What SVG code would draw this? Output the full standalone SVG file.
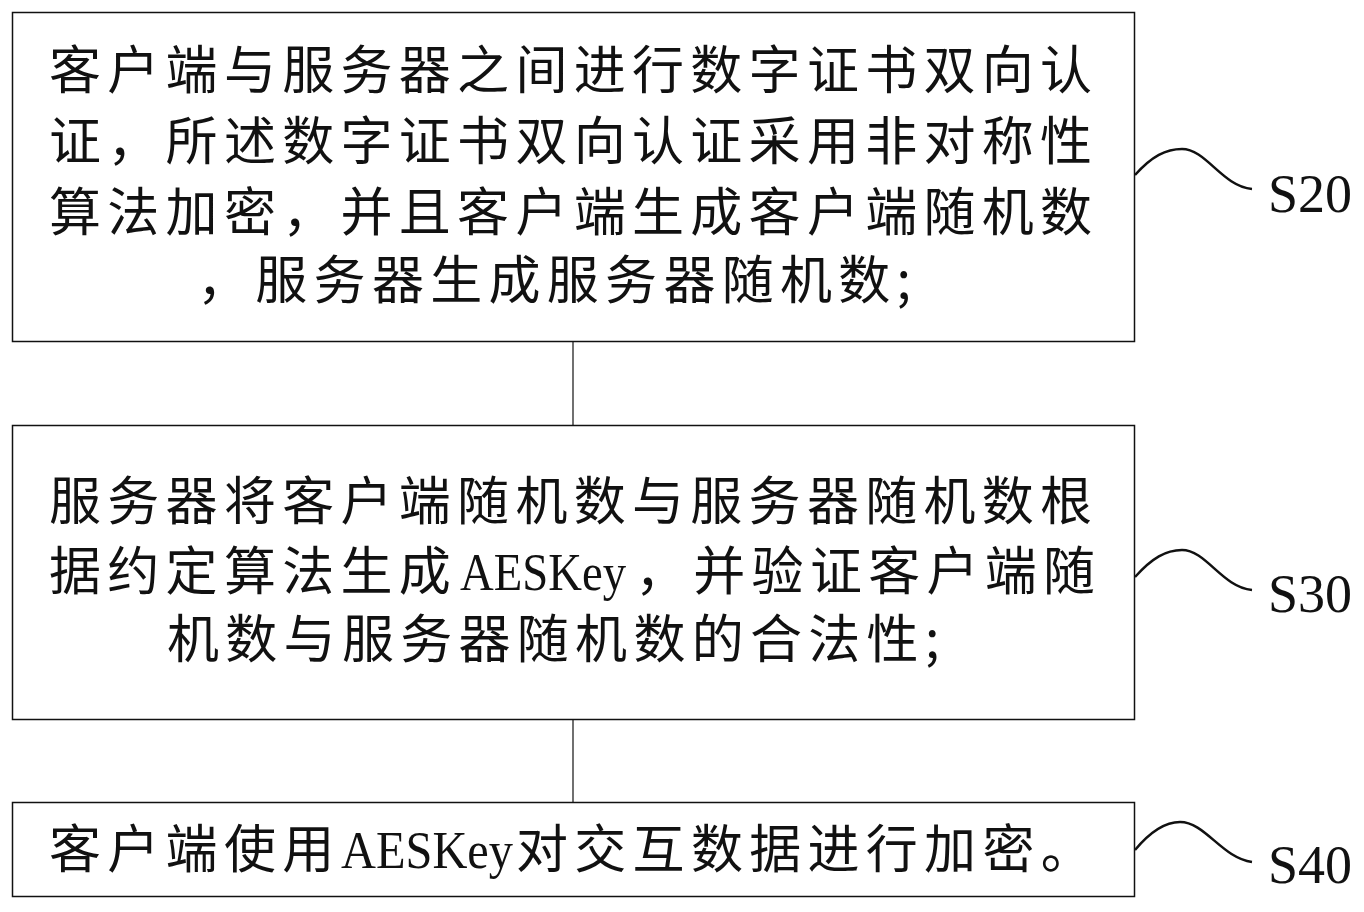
<svg xmlns="http://www.w3.org/2000/svg" width="1364" height="912" viewBox="0 0 1364 912">
<style>
.box{fill:#fff;stroke:#111;stroke-width:1.5}
.t{font-family:"Noto Sans CJK SC","Noto Sans",sans-serif;font-size:52px;letter-spacing:6.3px;fill:#111}
.lat{font-family:"Liberation Serif",serif;font-size:53px;letter-spacing:0}
.lbl{font-family:"Liberation Serif",serif;font-size:54px;fill:#111}
.sq{fill:none;stroke:#111;stroke-width:2.5}
.cn{stroke:#111;stroke-width:1.2;fill:none}
</style>
<rect width="1364" height="912" fill="#fff"/>
<g id="connectors">
<line class="cn" x1="573" y1="342" x2="573" y2="425"/>
<line class="cn" x1="573" y1="720" x2="573" y2="802"/>
</g>
<g id="s20">
<rect class="box" x="12.5" y="12.5" width="1122" height="329"/>
<text class="t"><tspan x="49" y="89">客户端与服务器之间进行数字证书双向认</tspan><tspan x="49" y="160">证，所述数字证书双向认证采用非对称性</tspan><tspan x="49" y="231">算法加密，并且客户端生成客户端随机数</tspan><tspan x="197" y="299">，服务器生成服务器随机数;</tspan></text>
</g>
<g id="s30">
<rect class="box" x="12.5" y="425.5" width="1122" height="294"/>
<text class="t"><tspan x="49" y="520">服务器将客户端随机数与服务器随机数根</tspan><tspan x="49" y="590">据约定算法生成</tspan><tspan class="lat" x="460" y="590" textLength="166" lengthAdjust="spacingAndGlyphs">AESKey</tspan><tspan x="635" y="590">，并验证客户端随</tspan><tspan x="167" y="658">机数与服务器随机数的合法性;</tspan></text>
</g>
<g id="s40">
<rect class="box" x="12.5" y="802.5" width="1122" height="94"/>
<text class="t" y="868"><tspan x="49">客户端使用</tspan><tspan class="lat" x="341" textLength="172" lengthAdjust="spacingAndGlyphs">AESKey</tspan><tspan x="516">对交互数据进行加密。</tspan></text>
</g>
<g id="labels">
<path class="sq" d="M1135,175 C1152,156 1166,149 1182,149 C1206,149 1222,186 1252,189"/>
<text class="lbl" x="1268" y="212">S20</text>
<path class="sq" d="M1135,577 C1152,558 1166,550 1182,550 C1206,550 1222,587 1252,590"/>
<text class="lbl" x="1268" y="612">S30</text>
<path class="sq" d="M1135,850 C1150,832 1164,822 1180,822 C1205,822 1222,858 1252,862"/>
<text class="lbl" x="1268" y="883">S40</text>
</g>
</svg>
